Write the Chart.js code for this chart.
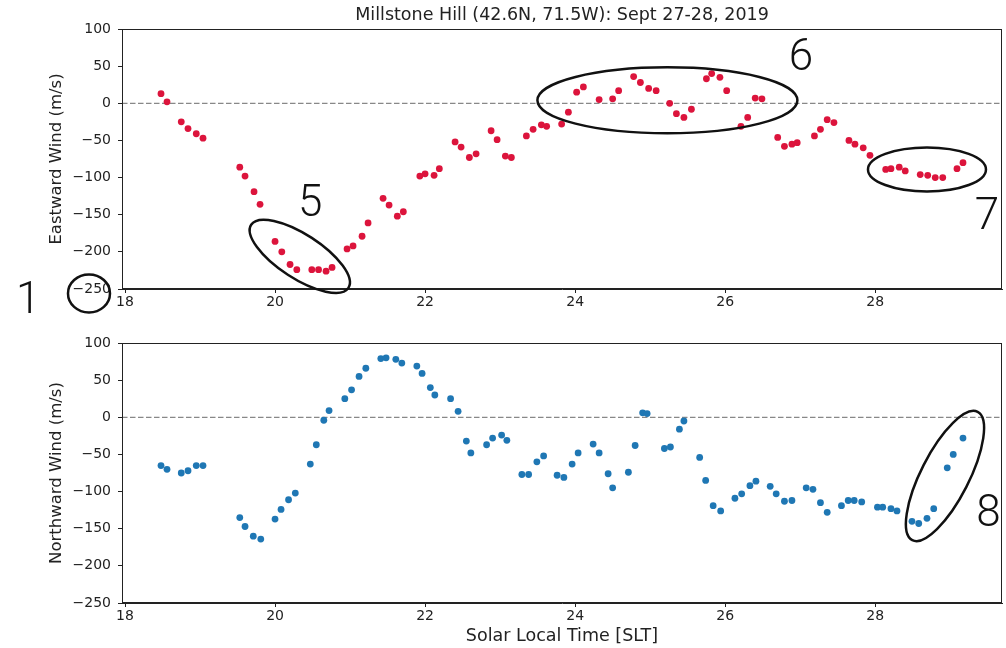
<!DOCTYPE html>
<html>
<head>
<meta charset="utf-8">
<script src="https://cdn.jsdelivr.net/npm/chart.js@4/dist/chart.umd.min.js"></script>
<style>
  body { margin: 0; background: #fff; }
  canvas { display: block; }
</style>
</head>
<body>
<canvas id="este" width="1006" height="325"></canvas>
<canvas id="norte" width="1006" height="323"></canvas>
<script>
//* datos (hora solar local y viento en m/s)
const horasEste = [18.48,18.56,18.75,18.84,18.95,19.04,19.53,19.60,19.72,19.80,
  20.00,20.09,20.20,20.29,20.49,20.58,20.68,20.76,20.96,21.04,21.16,21.24,21.44,21.52,21.63,21.71,
  21.93,22.00,22.12,22.19,22.40,22.48,22.59,22.68,22.88,22.96,23.07,23.15,23.35,23.44,23.55,23.62,
  23.82,23.91,24.02,24.11,24.32,24.50,24.58,24.78,24.87,24.98,25.08,25.26,25.35,25.45,25.55,
  25.75,25.82,25.93,26.02,26.21,26.30,26.40,26.49,26.70,26.79,26.89,26.96,27.19,27.27,27.36,27.45,
  27.65,27.73,27.84,27.93,28.14,28.21,28.32,28.40,28.60,28.70,28.80,28.90,29.09,29.17];
const vientoEste = [13,2,-25,-34,-41,-47,-86,-98,-119,-136,
  -186,-200,-217,-224,-224,-224,-226,-221,-196,-192,-179,-161,-128,-137,-152,-146,
  -98,-95,-97,-88,-52,-59,-73,-68,-37,-49,-71,-73,-44,-35,-29,-31,
  -28,-12,15,22,5,6,17,36,28,20,17,0,-14,-19,-8,
  33,40,35,17,-31,-19,7,6,-46,-58,-55,-53,-44,-35,-22,-26,
  -50,-55,-60,-70,-89,-88,-86,-91,-96,-97,-100,-100,-88,-80];

const horasNorte = [18.48,18.56,18.75,18.84,18.95,19.04,19.53,19.60,19.71,19.81,
  20.00,20.08,20.18,20.27,20.47,20.55,20.65,20.72,20.93,21.02,21.12,21.21,21.41,21.48,21.61,21.69,
  21.89,21.96,22.07,22.13,22.34,22.44,22.55,22.61,22.82,22.90,23.02,23.09,23.29,23.38,23.49,23.58,
  23.76,23.85,23.96,24.04,24.24,24.32,24.44,24.50,24.71,24.80,24.90,24.96,25.19,25.27,25.39,25.45,
  25.66,25.74,25.84,25.94,26.13,26.22,26.33,26.41,26.60,26.68,26.79,26.89,27.08,27.17,27.27,27.36,
  27.55,27.64,27.72,27.82,28.03,28.10,28.21,28.29,28.49,28.58,28.69,28.78,28.96,29.04,29.17];
const vientoNorte = [-65,-70,-75,-72,-65,-65,-135,-147,-160,-164,
  -137,-124,-111,-102,-63,-37,-4,9,25,37,55,66,79,80,78,73,
  69,59,40,30,25,8,-32,-48,-37,-28,-24,-31,-77,-77,-60,-52,
  -78,-81,-63,-48,-36,-48,-76,-95,-74,-38,6,5,-42,-40,-16,-5,
  -54,-85,-119,-126,-109,-103,-92,-86,-93,-103,-113,-112,-95,-97,-115,-128,
  -119,-112,-112,-114,-121,-121,-123,-126,-140,-143,-136,-123,-68,-50,-28];

const ticksX = [18, 20, 22, 24, 26, 28];
const ticksY = [-250, -200, -150, -100, -50, 0, 50, 100];

//* marcas hechas a mano sobre la figura (centro en unidades de datos)
const notasEste = [
  { tipo: "elipse", x: 17.52, y: -256, rx: 21, ry: 19, ang: 0 },
  { tipo: "texto", x: 16.71, y: -268, texto: "1" },
  { tipo: "elipse", x: 20.33, y: -206, rx: 58, ry: 22, ang: 33 },
  { tipo: "texto", x: 20.47, y: -137, texto: "5" },
  { tipo: "elipse", x: 25.23, y: 4, rx: 130, ry: 33, ang: 0 },
  { tipo: "texto", x: 27.01, y: 60, texto: "6" },
  { tipo: "elipse", x: 28.69, y: -89, rx: 59, ry: 22, ang: 0 },
  { tipo: "texto", x: 29.49, y: -154, texto: "7" },
];
const notasNorte = [
  { tipo: "elipse", x: 28.93, y: -79, rx: 24, ry: 72, ang: 27 },
  { tipo: "texto", x: 29.51, y: -131, texto: "8" },
];

const fuente = "'DejaVu Sans', sans-serif";
const colorTexto = "#222";

//* plugin: marco completo, linea en cero, titulo y notas
const extras = {
  id: "extras",
  beforeDatasetsDraw(chart) {
    const { ctx, chartArea: a, scales } = chart;
    const y0 = scales.y.getPixelForValue(0);
    ctx.save();
    ctx.strokeStyle = "#888";
    ctx.lineWidth = 1.2;
    ctx.setLineDash([5.5, 2.5]);
    ctx.beginPath();
    ctx.moveTo(a.left, y0);
    ctx.lineTo(a.right, y0);
    ctx.stroke();
    ctx.restore();
  },
  afterDraw(chart, args, opts) {
    const { ctx, chartArea: a, scales } = chart;
    ctx.save();
    ctx.strokeStyle = colorTexto;
    ctx.lineWidth = 1;
    ctx.strokeRect(a.left + 0.5, a.top + 0.5, a.right - a.left - 1, a.bottom - a.top - 1);
    if (opts.titulo) {
      ctx.fillStyle = colorTexto;
      ctx.font = "17.5px " + fuente;
      ctx.textAlign = "center";
      ctx.textBaseline = "middle";
      ctx.fillText(opts.titulo, (a.left + a.right) / 2, 15);
    }
    for (const n of opts.notas || []) {
      const px = scales.x.getPixelForValue(n.x);
      const py = scales.y.getPixelForValue(n.y);
      if (n.tipo == "elipse") {
        ctx.strokeStyle = "#111";
        ctx.lineWidth = 2.5;
        ctx.beginPath();
        ctx.ellipse(px, py, n.rx, n.ry, (n.ang * Math.PI) / 180, 0, Math.PI * 2);
        ctx.stroke();
      } else {
        ctx.fillStyle = "#111";
        ctx.font = "300 44px Roboto, sans-serif";
        ctx.textAlign = "center";
        ctx.textBaseline = "middle";
        ctx.fillText(n.texto, px, py);
      }
    }
    ctx.restore();
  },
};

function crearGrafica(id, horas, valores, color, tituloY, conf) {
  const puntos = horas.map((h, i) => ({ x: h, y: valores[i] }));
  return new Chart(document.getElementById(id), {
    type: "scatter",
    data: {
      datasets: [
        {
          data: puntos,
          backgroundColor: color,
          borderWidth: 0,
          pointRadius: 3.4,
          pointHoverRadius: 3.4,
        },
      ],
    },
    options: {
      responsive: false,
      animation: false,
      layout: { padding: { top: conf.arriba, right: 4, left: 0, bottom: 0 } },
      plugins: {
        legend: { display: false },
        tooltip: { enabled: false },
        extras: { titulo: conf.titulo, notas: conf.notas },
      },
      scales: {
        x: {
          type: "linear",
          min: 17.96,
          max: 29.69,
          afterBuildTicks: (s) => { s.ticks = ticksX.map((v) => ({ value: v })); },
          afterFit: (s) => { s.height = conf.altoX; },
          grid: { drawOnChartArea: false, tickLength: 4, color: colorTexto },
          border: { color: colorTexto },
          ticks: { color: colorTexto, font: { family: fuente, size: 14 }, padding: 1, maxRotation: 0 },
          title: {
            display: !!conf.tituloX,
            text: conf.tituloX,
            color: colorTexto,
            font: { family: fuente, size: 17.5 },
            padding: { top: 0, bottom: 1 },
          },
        },
        y: {
          min: -250,
          max: 100,
          afterBuildTicks: (s) => { s.ticks = ticksY.map((v) => ({ value: v })); },
          afterFit: (s) => { s.width = 122; },
          grid: { drawOnChartArea: false, tickLength: 4, color: colorTexto },
          border: { color: colorTexto },
          ticks: {
            color: colorTexto,
            font: { family: fuente, size: 14 },
            padding: 7,
            callback: (v) => String(v).replace("-", "\u2212"),
          },
          title: {
            display: true,
            text: tituloY,
            color: colorTexto,
            font: { family: fuente, size: 16.5 },
            padding: { top: 47, bottom: 0 },
          },
        },
      },
    },
    plugins: [extras],
  });
}

crearGrafica("este", horasEste, vientoEste, "#dc143c", "Eastward Wind (m/s)", {
  arriba: 29,
  altoX: 36,
  titulo: "Millstone Hill (42.6N, 71.5W): Sept 27-28, 2019",
  notas: notasEste,
});
crearGrafica("norte", horasNorte, vientoNorte, "#1f77b4", "Northward Wind (m/s)", {
  arriba: 18,
  altoX: 45,
  tituloX: "Solar Local Time [SLT]",
  notas: notasNorte,
});
</script>
</body>
</html>
